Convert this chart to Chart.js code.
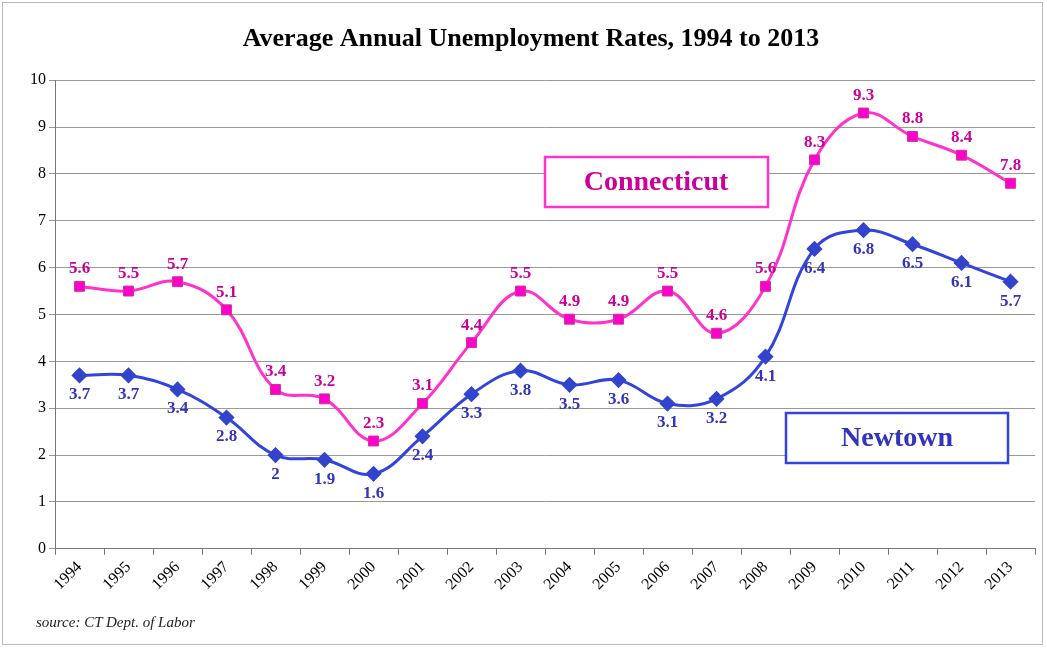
<!DOCTYPE html>
<html>
<head>
<meta charset="UTF-8">
<script src="https://cdn.jsdelivr.net/npm/chart.js"></script>
<style>
    body { margin: 0; background: #fff; }
    .frame { position: absolute; left: 2px; top: 2px; width: 1041px; height: 643px; border: 1px solid #bbb; box-sizing: border-box; }
    .wrap { position: absolute; left: 0; top: 0; width: 1047px; height: 649px; }
    .source { position: absolute; left: 36px; top: 614px; font: italic 15px "Liberation Serif", serif; color: #222; }
</style>
</head>
<body>
<div class="frame"></div>
<div class="wrap"><canvas id="c" width="1047" height="649"></canvas></div>
<div class="source">source: CT Dept. of Labor</div>
<script>
const years = ['1994','1995','1996','1997','1998','1999','2000','2001','2002','2003','2004','2005','2006','2007','2008','2009','2010','2011','2012','2013'];
const connecticut = [5.6, 5.5, 5.7, 5.1, 3.4, 3.2, 2.3, 3.1, 4.4, 5.5, 4.9, 4.9, 5.5, 4.6, 5.6, 8.3, 9.3, 8.8, 8.4, 7.8];
const newtown = [3.7, 3.7, 3.4, 2.8, 2, 1.9, 1.6, 2.4, 3.3, 3.8, 3.5, 3.6, 3.1, 3.2, 4.1, 6.4, 6.8, 6.5, 6.1, 5.7];

const serif = '"Liberation Serif", "DejaVu Serif", serif';
const pinkLine = '#ff33cc', pinkText = '#cc0099';
const blueLine = '#3344dd', blueText = '#3333bb';

const extras = {
    id: 'extras',
    afterDatasetsDraw(chart) {
        const ctx = chart.ctx;
        ctx.save();
        ctx.font = 'bold 17px ' + serif;
        ctx.textAlign = 'center';
        chart.getDatasetMeta(0).data.forEach((p, i) => {
            ctx.fillStyle = pinkText;
            ctx.textBaseline = 'bottom';
            ctx.fillText(String(connecticut[i]), p.x, p.y - 9);
        });
        chart.getDatasetMeta(1).data.forEach((p, i) => {
            ctx.fillStyle = blueText;
            ctx.textBaseline = 'top';
            ctx.fillText(String(newtown[i]), p.x, p.y + 11);
        });
        ctx.lineWidth = 2.5;
        ctx.font = 'bold 28px ' + serif;
        ctx.textBaseline = 'middle';
        ctx.strokeStyle = pinkLine; ctx.fillStyle = '#fff';
        ctx.fillRect(545, 157, 223, 50); ctx.strokeRect(545, 157, 223, 50);
        ctx.fillStyle = pinkText; ctx.fillText('Connecticut', 656, 183);
        ctx.strokeStyle = blueLine; ctx.fillStyle = '#fff';
        ctx.fillRect(786, 413, 222, 50); ctx.strokeRect(786, 413, 222, 50);
        ctx.fillStyle = blueText; ctx.fillText('Newtown', 897, 439);
        ctx.restore();
    }
};

new Chart(document.getElementById('c'), {
    type: 'line',
    data: {
        labels: years,
        datasets: [
            { label: 'Connecticut', data: connecticut, borderColor: pinkLine, backgroundColor: '#ff00cc',
              pointStyle: 'rect', pointRadius: 7, pointBorderColor: '#cc3399', pointBorderWidth: 1, borderWidth: 3, tension: 0.4 },
            { label: 'Newtown', data: newtown, borderColor: blueLine, backgroundColor: '#3344cc',
              pointStyle: 'rectRot', pointRadius: 6, pointBorderColor: '#3344cc', borderWidth: 3, tension: 0.4 }
        ]
    },
    options: {
        responsive: false,
        animation: false,
        layout: { padding: { left: 27, right: 12, top: 16, bottom: 52 } },
        plugins: {
            legend: { display: false },
            tooltip: { enabled: false },
            title: { display: true, text: 'Average Annual Unemployment Rates, 1994 to 2013',
                     font: { family: serif, size: 26, weight: 'bold' }, color: '#000', padding: { top: 8, bottom: 25 } }
        },
        scales: {
            y: { min: 0, max: 10, ticks: { stepSize: 1, color: '#000', font: { family: serif, size: 16 } },
                 grid: { color: '#999', drawTicks: true, tickLength: 6 }, border: { color: '#777' } },
            x: { offset: true, ticks: { color: '#000', maxRotation: 45, minRotation: 45, font: { family: serif, size: 16 } },
                 grid: { display: true, offset: true, drawOnChartArea: false, tickLength: 6, color: '#777' }, border: { color: '#777' } }
        }
    },
    plugins: [extras]
});
</script>
</body>
</html>
